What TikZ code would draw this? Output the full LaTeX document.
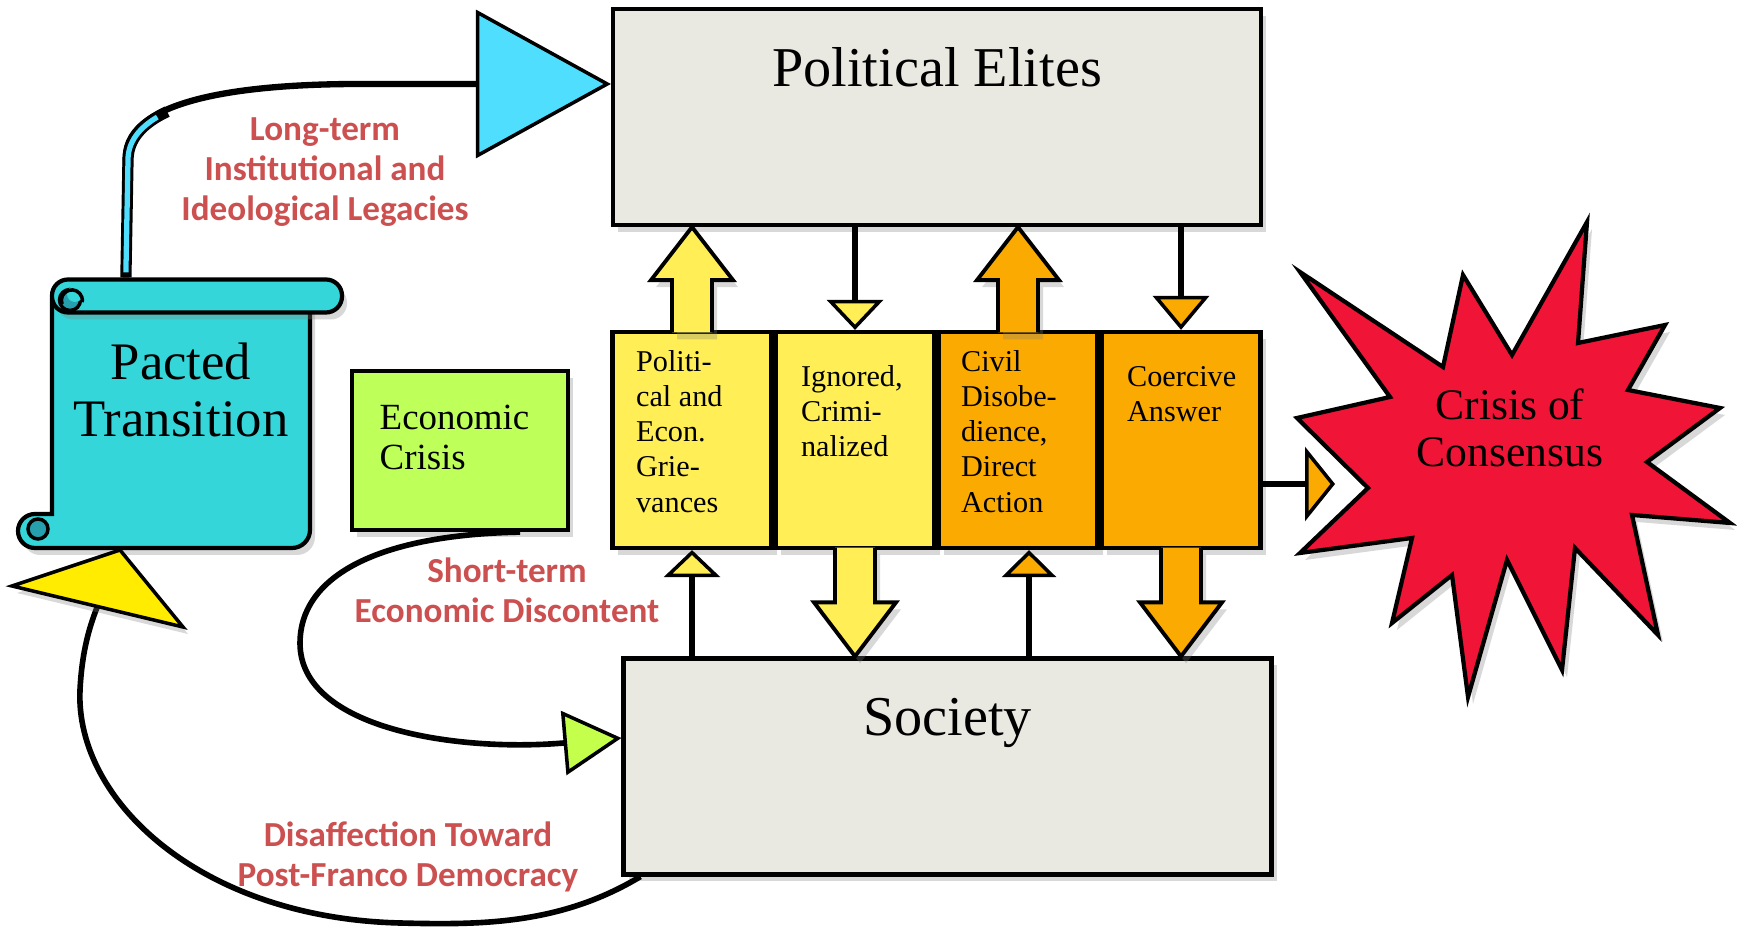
\documentclass[tikz,border=0pt]{standalone}
\usepackage{fontspec}
\setmainfont{Liberation Serif}
\newfontfamily\labelfont{Carlito}
\usetikzlibrary{positioning,calc,shadows,arrows.meta}

\definecolor{elitegray}{RGB}{234,233,225}
\definecolor{scrollteal}{RGB}{52,214,218}
\definecolor{curlteal}{RGB}{38,160,172}
\definecolor{headcyan}{RGB}{80,222,255}
\definecolor{limebox}{RGB}{190,255,90}
\definecolor{headlime}{RGB}{196,255,76}
\definecolor{boxyellow}{RGB}{255,238,85}
\definecolor{headyellow}{RGB}{255,236,0}
\definecolor{boxorange}{RGB}{250,170,0}
\definecolor{starred}{RGB}{240,20,55}
\definecolor{labelred}{RGB}{205,80,80}

\tikzset{
  castshadow/.style={drop shadow={opacity=0.3, shadow xshift=0.5mm, shadow yshift=-0.7mm}},
  bigbox/.style={draw, line width=1.2pt, fill=elitegray, minimum width=64.8mm,
    minimum height=21.6mm, inner sep=0pt, castshadow},
  colbox/.style={draw, line width=1.2pt, minimum width=15.9mm, minimum height=21.6mm,
    inner sep=0pt, castshadow},
  coltext/.style={anchor=north west, align=left, inner sep=0pt,
    font=\fontsize{8.6}{10}\selectfont},
  title/.style={inner sep=0pt, font=\fontsize{16}{18}\selectfont},
  flowlabel/.style={align=center, inner sep=0pt, text=labelred,
    font=\labelfont\bfseries\fontsize{10}{11.4}\selectfont},
  conn/.style={line width=1.6pt},
  stem/.style={line width=1.5pt},
  headline/.style={draw, line width=1pt, line join=miter},
  blockarr/.style={draw, line width=1.1pt, line join=miter, castshadow},
}

% block arrows between the column boxes and the two big boxes
\newcommand{\blockup}[3]{%
  \filldraw[blockarr, fill=#3] let \p1=(#1), \p2=(#2) in
    (\x1-2mm,\y1-0.25mm) -- (\x1-2mm,\y2-5.3mm) -- (\x1-4.1mm,\y2-5.3mm) -- (\x1,\y2)
    -- (\x1+4.1mm,\y2-5.3mm) -- (\x1+2mm,\y2-5.3mm) -- (\x1+2mm,\y1-0.25mm);}
\newcommand{\blockdown}[3]{%
  \filldraw[blockarr, fill=#3] let \p1=(#1), \p2=(#2) in
    (\x1-2mm,\y1+0.25mm) -- (\x1-2mm,\y2+5.4mm) -- (\x1-4.1mm,\y2+5.4mm) -- (\x1,\y2)
    -- (\x1+4.1mm,\y2+5.4mm) -- (\x1+2mm,\y2+5.4mm) -- (\x1+2mm,\y1+0.25mm);}

\begin{document}
\begin{tikzpicture}[x=0.1mm, y=-0.1mm]
  \fill[white] (0,0) rectangle (1737,930);
  \useasboundingbox (0,0) rectangle (1737,930);

  % the scroll
  \draw[line width=1.2pt, fill=scrollteal, castshadow]
    (52,300) -- (310,300) -- (310,530) arc[start angle=0, end angle=-90, radius=1.8mm]
    -- (35,548) arc[start angle=270, end angle=90, radius=1.7mm] -- (52,514) -- cycle;
  \draw[line width=1pt, fill=curlteal] (38,529) circle[radius=1mm];
  \node[draw, line width=1.2pt, fill=scrollteal, rounded corners=1.6mm, minimum width=29mm,
    minimum height=3.3mm, inner sep=0pt, castshadow] (roll) at (197,296) {};
  \draw[line width=1pt, fill=curlteal] (70,300) circle[radius=1.05mm];
  \fill[scrollteal] (75,294) circle[radius=0.8mm];
  \draw[line width=1pt] (62,304) arc[start angle=200, end angle=-10, radius=1.05mm];
  \node[align=center, inner sep=0pt, font=\fontsize{15}{16}\selectfont] (pacted) at (181,390) {Pacted\\Transition};

  \node[draw, line width=1.2pt, fill=limebox, minimum width=21.6mm, minimum height=15.9mm,
    inner sep=0pt, castshadow] (econ) at (460,450.5) {};
  \node[anchor=west, align=left, inner sep=0pt, font=\fontsize{10.5}{11.4}\selectfont] (econtext)
    at (379,437.5) {Economic\\Crisis};

  \node[bigbox] (elites) at (937,117) {};
  \node[title] (elitestitle) at ([yshift=-6mm]elites.north) {Political Elites};
  \node[bigbox] (society) at (947.5,766.5) {};
  \node[title] (societytitle) at ([yshift=-6.7mm]society.north) {Society};

  \node[colbox, fill=boxyellow] (griev) at (692,440) {};
  \node[colbox, fill=boxyellow, right of=griev, node distance=16.3mm] (ignored) {};
  \node[colbox, fill=boxorange, right of=ignored, node distance=16.3mm] (civil) {};
  \node[colbox, fill=boxorange, right of=civil, node distance=16.3mm] (coercive) {};
  \node[coltext] (grievtext) at ([xshift=2.5mm, yshift=-2mm]griev.north west) {Politi-\\cal and\\Econ.\\Grie-\\vances};
  \node[coltext] (ignoredtext) at ([xshift=2.7mm, yshift=-3.5mm]ignored.north west) {Ignored,\\Crimi-\\nalized};
  \node[coltext] (civiltext) at ([xshift=2.4mm, yshift=-2mm]civil.north west) {Civil\\Disobe-\\dience,\\Direct\\Action};
  \node[coltext] (coercivetext) at ([xshift=2.7mm, yshift=-3.6mm]coercive.north west) {Coercive\\Answer};

  \blockup{griev.north}{elites.south}{boxyellow}
  \blockup{civil.north}{elites.south}{boxorange}
  \blockdown{ignored.south}{society.north}{boxyellow}
  \blockdown{coercive.south}{society.north}{boxorange}

  \coordinate (civtip) at ([xshift=1.1mm]civil.south);
  \draw[stem, -{Triangle[width=5.6mm, length=2.7mm, fill=boxyellow, line width=1pt]}]
    (society.north -| griev.south) -- (griev.south);
  \draw[stem, -{Triangle[width=5.4mm, length=2.7mm, fill=boxorange, line width=1pt]}]
    (society.north -| civtip) -- (civtip);
  \draw[stem, -{Triangle[width=5.6mm, length=3mm, fill=boxyellow, line width=1pt]}]
    (elites.south -| ignored.north) -- (ignored.north);
  \draw[stem, -{Triangle[width=5.6mm, length=3.4mm, fill=boxorange, line width=1pt]}]
    (elites.south -| coercive.north) -- (coercive.north);

  % the starburst
  \draw[line width=1.2pt, line join=miter, fill=starred, castshadow]
    (1300,272) -- (1443,367) -- (1463,275) -- (1512,355) -- (1587,222) -- (1578,343)
    -- (1665,325) -- (1628,390) -- (1720,408) -- (1647,462) -- (1730,523) -- (1632,515)
    -- (1658,635) -- (1575,548) -- (1562,670) -- (1507,560) -- (1468,697) -- (1452,575)
    -- (1392,623) -- (1412,538) -- (1300,553) -- (1368,488) -- (1297,418) -- (1390,397) -- cycle;
  \node[align=center, inner sep=0pt, font=\fontsize{12.4}{13.4}\selectfont] (crisis) at (1510,428) {Crisis of\\Consensus};
  \coordinate (crisisin) at (1335,484);
  \draw[stem, -{Triangle[width=7.4mm, length=3mm, fill=boxorange, line width=1pt]}]
    (coercive.east |- crisisin) -- (crisisin);

  % long-term legacies
  \coordinate (ltstart) at ([xshift=7.6mm]roll.north west);
  \draw[line width=1.8pt, -{Triangle[width=14.8mm, length=13.5mm, fill=headcyan, line width=1pt]}]
    (ltstart) -- ++(0,-120) .. controls +(0,-60) and (250,84) .. (360,84)
    -- ([yshift=3.3mm]elites.west);
  \draw[line width=3.2pt] (ltstart) -- (128,160) .. controls (128,139) and (142.9,123) .. (167.2,111.7);
  \draw[headcyan, line width=1.5pt] ([yshift=0.5mm]ltstart) -- (128,160) .. controls (128,142) and (139,128) .. (157.3,117.1);
  \node[flowlabel] (longterm) at (325,172) {Long-term\\Institutional and\\Ideological Legacies};

  % short-term discontent
  \draw[conn, -{Triangle[width=6.4mm, length=5.8mm, fill=headlime, line width=1pt]}]
    ([xshift=-5mm]econ.south east) .. controls (370,535) and (300,580) .. (300,643)
    .. controls (300,730) and (460,752) .. ([yshift=2.85mm]society.west);
  \node[flowlabel] (shortterm) at (507,590) {Short-term\\Economic Discontent};

  % disaffection back to the transition
  \coordinate (yhead) at (98,605);
  \draw[conn] ([xshift=1.9mm]society.south west) .. controls (560,925) and (480,925) .. (400,923)
    .. controls (200,918) and (75,800) .. (80,690) .. controls (82,650) and (90,625) .. (yhead);
  \draw[headline, fill=headyellow, castshadow] (12,586) -- (120,550) -- (183,627) -- cycle;
  \node[flowlabel] (disaffection) at (408,857) {Disaffection Toward\\Post-Franco Democracy};
\end{tikzpicture}
\end{document}
